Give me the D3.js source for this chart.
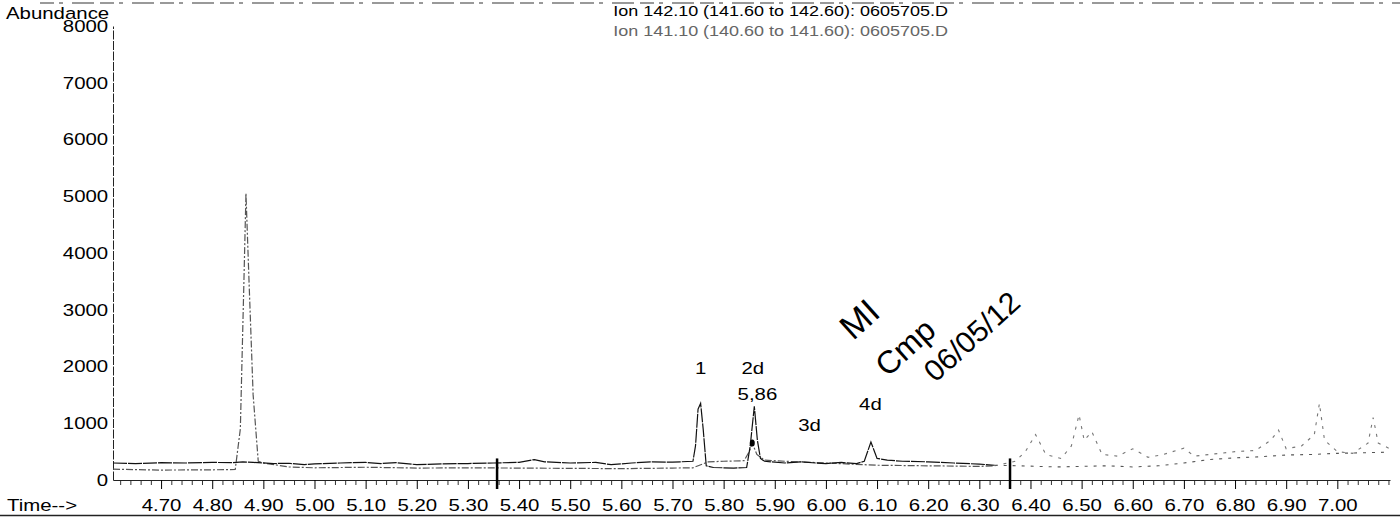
<!DOCTYPE html>
<html>
<head>
<meta charset="utf-8">
<script src="https://cdn.jsdelivr.net/npm/d3@7"></script>
<style>
  body { margin: 0; background: #fff; }
  text { font-family: "Liberation Sans", Arial, sans-serif; }
</style>
</head>
<body>
<div id="chart"></div>
<script>
// Data
const titleLines = ["Ion 142.10 (141.60 to 142.60): 0605705.D",
                    "Ion 141.10 (140.60 to 141.60): 0605705.D"];
const yTicks = [0, 1000, 2000, 3000, 4000, 5000, 6000, 7000, 8000];
const xTickLabels = ["4.70","4.80","4.90","5.00","5.10","5.20","5.30","5.40","5.50","5.60","5.70",
                     "5.80","5.90","6.00","6.10","6.20","6.30","6.40","6.50","6.60","6.70","6.80","6.90","7.00"];

// Ion 142.10 (black)
const ion142Time = [4.606,4.65,4.70,4.75,4.80,4.84,4.86,4.88,4.92,4.95,4.98,5.00,5.05,5.10,5.13,5.16,5.20,5.25,5.30,5.35,
  5.40,5.43,5.45,5.50,5.55,5.58,5.62,5.66,5.70,5.74,5.745,5.75,5.755,5.76,5.766,5.78,5.82,5.845,5.852,5.86,5.866,5.872,
  5.88,5.92,5.95,5.98,6.00,6.03,6.06,6.075,6.088,6.10,6.12,6.15,6.20,6.25,6.30,6.33,
  6.38,6.45,6.50,6.55,6.60,6.65,6.70,6.75,6.80,6.85,6.90,6.95,7.00,7.05,7.103];
const ion142Value = [300,290,305,300,310,305,320,310,290,295,270,285,300,310,290,305,270,285,290,300,
  310,360,320,300,310,270,300,320,315,330,600,1250,1350,900,250,220,210,220,600,1300,700,380,
  330,300,320,300,290,310,290,330,670,380,350,330,320,300,280,260,
  250,230,240,250,230,250,300,360,390,410,440,450,470,480,490];

// Ion 141.10 (grey)
const ion141Time = [4.606,4.70,4.80,4.845,4.855,4.862,4.866,4.872,4.88,4.89,4.90,4.95,5.00,5.05,5.10,5.20,5.30,5.40,
  5.50,5.60,5.70,5.74,5.77,5.80,5.84,5.85,5.856,5.865,5.88,5.92,6.00,6.10,6.20,6.30,6.33,
  6.37,6.39,6.41,6.43,6.46,6.48,6.495,6.505,6.52,6.54,6.57,6.60,6.63,6.66,6.70,6.72,6.76,6.80,6.84,6.87,6.885,6.90,
  6.93,6.955,6.965,6.975,7.00,7.03,7.06,7.07,7.08,7.103];
const ion141Value = [190,175,180,185,900,3500,5050,3500,1500,330,300,230,215,220,225,210,215,210,
  205,200,210,215,320,330,340,500,650,450,350,330,300,260,250,240,250,
  330,500,800,450,380,600,1150,700,850,450,420,550,400,450,560,420,460,500,520,700,880,550,
  600,800,1350,700,500,470,650,1100,650,550];

// peak annotations (time, abundance)
const peakText = ["1", "2d", "5,86", "3d", "4d"];
const peakTime = [5.755, 5.857, 5.866, 5.968, 6.087];
const peakLevel = [1970, 1970, 1510, 970, 1330];

// handwritten note (text, time, abundance, size)
const noteText = ["MI", "Cmp", "06/05/12"];
const noteTime = [6.065, 6.155, 6.285];
const noteLevel = [2840, 2340, 2530];
const noteSize = [35, 32, 30];

// integration markers
const markerTime = [5.357, 6.36];

const fadeFrom = 6.33;

const W = 1400, H = 521;
const svg = d3.select("#chart").append("svg")
    .attr("width", W).attr("height", H);

const x = d3.scaleLinear().domain([4.606, 7.103]).range([113, 1390]);
const y = d3.scaleLinear().domain([0, 8000]).range([480, 26]);

// scan artefact along the top edge
svg.append("line")
    .attr("x1", 40).attr("x2", W).attr("y1", 3).attr("y2", 3)
    .attr("stroke", "#999").attr("stroke-width", 2)
    .attr("stroke-dasharray", "14,5,4,9,22,6");

// Y axis
const yAxis = svg.append("g")
    .attr("transform", "translate(113,0)")
    .call(d3.axisLeft(y).tickValues(yTicks).tickSize(0).tickPadding(4).tickFormat(d3.format("d")));
yAxis.select(".domain").attr("stroke", "#222").attr("stroke-dasharray", "9,1.5");
yAxis.selectAll("text")
    .attr("font-size", 17).attr("fill", "#000")
    .attr("transform", "scale(1.2,1)");

// X axis : minor ticks then major ticks with labels
const majorVals = xTickLabels.map(d => +d);
const minorVals = d3.range(231, 356).map(i => i * 0.02)
    .filter(v => !majorVals.some(m => Math.abs(m - v) < 0.001));

svg.append("g")
    .attr("transform", "translate(0,480)")
    .call(d3.axisBottom(x).tickValues(minorVals).tickSize(5).tickSizeOuter(0).tickFormat(""))
    .call(g => g.select(".domain").remove())
    .selectAll("line").attr("stroke", "#333");

const xAxis = svg.append("g")
    .attr("transform", "translate(0,480)")
    .call(d3.axisBottom(x).tickValues(majorVals).tickSize(9).tickSizeOuter(0).tickPadding(10)
        .tickFormat((d, i) => xTickLabels[i]));
xAxis.select(".domain").attr("stroke", "#222");
xAxis.selectAll("text")
    .attr("font-size", 17).attr("fill", "#000")
    .attr("transform", "scale(1.2,1)");

// labels
svg.append("text")
    .attr("transform", "translate(6,19) scale(1.2,1)")
    .attr("font-size", 17).text("Abundance");
svg.append("text")
    .attr("transform", "translate(7,511) scale(1.2,1)")
    .attr("font-size", 17).text("Time-->");
svg.append("line")
    .attr("x1", 0).attr("x2", W).attr("y1", 515.5).attr("y2", 515.5)
    .attr("stroke", "#222").attr("stroke-width", 1.5);

svg.selectAll(".title").data(titleLines).join("text")
    .attr("class", "title")
    .attr("transform", (d, i) => `translate(948,${16 + i * 20}) scale(1.2,1)`)
    .attr("text-anchor", "end")
    .attr("font-size", 15)
    .attr("fill", (d, i) => i === 0 ? "#000" : "#666")
    .text(d => d);

// traces
const line = d3.line().x(d => x(d[0])).y(d => y(d[1]));
const ion142 = ion142Time.map((t, i) => [t, ion142Value[i]]);
const ion141 = ion141Time.map((t, i) => [t, ion141Value[i]]);

function drawTrace(data, color, dash, fadedColor) {
    svg.append("path")
        .datum(data.filter(d => d[0] <= fadeFrom))
        .attr("d", line)
        .attr("fill", "none")
        .attr("stroke", color).attr("stroke-width", 1.2)
        .attr("stroke-dasharray", dash);
    svg.append("path")
        .datum(data.filter(d => d[0] >= fadeFrom))
        .attr("d", line)
        .attr("fill", "none")
        .attr("stroke", fadedColor).attr("stroke-width", 1.1)
        .attr("stroke-dasharray", "3,6");
}
drawTrace(ion141, "#555", "7,2,2,2", "#777");
drawTrace(ion142, "#111", "14,1", "#555");

// integration markers
svg.selectAll(".marker").data(markerTime).join("line")
    .attr("class", "marker")
    .attr("x1", d => x(d)).attr("x2", d => x(d))
    .attr("y1", y(380)).attr("y2", y(0) + 9)
    .attr("stroke", "#000").attr("stroke-width", 2.5);

// small pen dot on peak 2d
svg.append("ellipse")
    .attr("cx", x(5.856)).attr("cy", y(650))
    .attr("rx", 2.5).attr("ry", 3.5).attr("fill", "#000");

// peak labels
svg.selectAll(".peak").data(peakText).join("text")
    .attr("class", "peak")
    .attr("transform", (d, i) => `translate(${x(peakTime[i])},${y(peakLevel[i])}) scale(1.2,1)`)
    .attr("text-anchor", "middle")
    .attr("dominant-baseline", "central")
    .attr("font-size", 17)
    .text(d => d);

// handwritten note
svg.selectAll(".note").data(noteText).join("text")
    .attr("class", "note")
    .attr("transform", (d, i) => `translate(${x(noteTime[i])},${y(noteLevel[i])}) rotate(-42)`)
    .attr("text-anchor", "middle")
    .attr("dominant-baseline", "central")
    .attr("font-family", "DejaVu Sans")
    .attr("font-weight", 200)
    .attr("font-size", (d, i) => noteSize[i])
    .text(d => d);
</script>
</body>
</html>
